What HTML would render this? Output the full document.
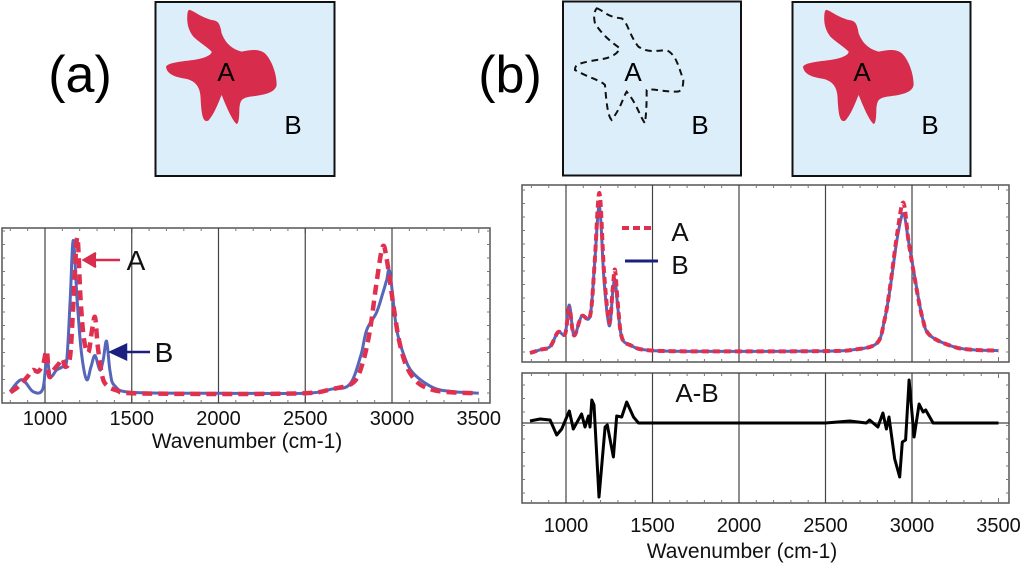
<!DOCTYPE html>
<html><head><meta charset="utf-8">
<style>
html,body{margin:0;padding:0;background:#fff;}
svg{display:block;font-family:"Liberation Sans",sans-serif;}
</style></head>
<body>
<svg id="fig" width="1024" height="566" viewBox="0 0 1024 566">
  <text x="80" y="92" font-size="52" text-anchor="middle">(a)</text>
  <text x="510" y="92" font-size="52" text-anchor="middle">(b)</text>

  <g>
    <rect x="155.5" y="2" width="179" height="174" fill="#ddeefb" stroke="#111" stroke-width="2"/>
    <path transform="translate(140,0) scale(0.3333)" fill="#d72c4c" d="M150,30 C165,35 180,50 215,60 C235,62 240,70 245,100 C255,125 270,145 305,155 C330,150 355,145 375,160 C395,180 410,220 410,255 C405,280 370,285 330,290 C305,295 300,300 298,330 C298,355 295,372 290,372 C275,360 255,310 245,285 C238,300 225,340 205,362 C190,368 185,350 182,300 C182,265 170,240 130,235 C100,230 80,220 78,200 C85,188 120,185 160,180 C195,175 215,165 215,155 C200,140 175,125 160,110 C145,90 140,70 142,45 C143,32 146,28 150,30 Z"/>
    <text x="226" y="81" font-size="26" text-anchor="middle">A</text>
    <text x="293" y="134" font-size="26" text-anchor="middle">B</text>
  </g>

  <g>
    <rect x="563" y="1.5" width="178" height="174" fill="#ddeefb" stroke="#111" stroke-width="2"/>
    <path transform="translate(550,0) scale(0.3333)" fill="none" stroke="#111" stroke-width="6" stroke-dasharray="20,14" d="M140,25 C160,30 165,50 215,55 C235,70 235,100 265,140 C290,155 300,155 350,150 C375,165 380,180 400,240 C400,270 390,275 380,275 C330,275 315,265 290,270 C290,300 290,330 285,370 C270,350 260,310 230,275 C220,290 215,320 185,360 C175,350 170,320 165,255 C150,240 120,235 75,210 C75,195 80,190 140,180 C180,175 200,165 210,145 C190,130 160,110 135,70 C130,50 132,35 140,25 Z"/>
    <text x="633" y="81" font-size="26" text-anchor="middle">A</text>
    <text x="700" y="134" font-size="26" text-anchor="middle">B</text>
  </g>

  <g>
    <rect x="792.5" y="2" width="178" height="174" fill="#ddeefb" stroke="#111" stroke-width="2"/>
    <path transform="translate(777,0) scale(0.3333)" fill="#d72c4c" d="M150,30 C165,35 180,50 215,60 C235,62 240,70 245,100 C255,125 270,145 305,155 C330,150 355,145 375,160 C395,180 410,220 410,255 C405,280 370,285 330,290 C305,295 300,300 298,330 C298,355 295,372 290,372 C275,360 255,310 245,285 C238,300 225,340 205,362 C190,368 185,350 182,300 C182,265 170,240 130,235 C100,230 80,220 78,200 C85,188 120,185 160,180 C195,175 215,165 215,155 C200,140 175,125 160,110 C145,90 140,70 142,45 C143,32 146,28 150,30 Z"/>
    <text x="862" y="81" font-size="26" text-anchor="middle">A</text>
    <text x="930" y="134" font-size="26" text-anchor="middle">B</text>
  </g>

  <g id="charts"></g>
</svg>
<script>
const tickValues = [1000, 1500, 2000, 2500, 3000, 3500];
const tickLabels = ["1000", "1500", "2000", "2500", "3000", "3500"];
// Panel (a) spectra: [wavenumber, intensity]
const specA_a = [[800,0.02],[850,0.06],[900,0.12],[930,0.16],[960,0.15],[990,0.2],[1010,0.28],[1025,0.12],[1050,0.16],[1080,0.2],[1100,0.23],[1120,0.18],[1145,0.25],[1165,0.6],[1186,0.99],[1205,0.6],[1225,0.35],[1250,0.27],[1270,0.4],[1288,0.49],[1305,0.3],[1330,0.12],[1360,0.06],[1420,0.03],[1500,0.015],[2000,0.01],[2500,0.015],[2650,0.04],[2775,0.08],[2830,0.2],[2873,0.41],[2910,0.7],[2946,0.93],[2970,0.85],[3006,0.58],[3040,0.35],[3085,0.18],[3150,0.08],[3236,0.035],[3350,0.02],[3500,0.015]];
const specB_a = [[798,0.025],[866,0.1],[931,0.025],[987,0.04],[1010,0.24],[1030,0.12],[1067,0.16],[1100,0.18],[1125,0.22],[1145,0.6],[1163,0.97],[1185,0.6],[1210,0.27],[1240,0.1],[1265,0.18],[1288,0.25],[1316,0.16],[1335,0.22],[1355,0.34],[1375,0.15],[1403,0.06],[1509,0.02],[2000,0.015],[2500,0.015],[2650,0.04],[2756,0.07],[2820,0.25],[2854,0.41],[2911,0.52],[2950,0.65],[2969,0.72],[2988,0.77],[3026,0.42],[3070,0.25],[3122,0.14],[3237,0.05],[3350,0.025],[3500,0.015]];
// Panel (b) spectra
const specA_b = [[792,0.0],[850,0.02],[908,0.04],[954,0.13],[995,0.12],[1019,0.28],[1046,0.11],[1090,0.23],[1139,0.23],[1165,0.55],[1193,1.0],[1220,0.5],[1250,0.19],[1270,0.4],[1283,0.52],[1300,0.3],[1322,0.1],[1370,0.05],[1503,0.015],[2000,0.01],[2500,0.012],[2659,0.02],[2796,0.06],[2840,0.2],[2873,0.41],[2915,0.75],[2950,0.94],[2980,0.7],[3017,0.46],[3060,0.22],[3104,0.11],[3237,0.04],[3350,0.02],[3500,0.015]];
const specB_b = [[792,0.0],[850,0.02],[908,0.04],[954,0.13],[995,0.12],[1019,0.3],[1046,0.11],[1090,0.23],[1139,0.23],[1165,0.55],[1193,0.92],[1220,0.45],[1250,0.17],[1270,0.38],[1283,0.46],[1300,0.28],[1322,0.1],[1370,0.05],[1503,0.015],[2000,0.01],[2500,0.012],[2659,0.02],[2796,0.06],[2840,0.2],[2873,0.4],[2915,0.72],[2950,0.87],[2980,0.7],[3017,0.47],[3060,0.22],[3104,0.11],[3237,0.04],[3350,0.02],[3500,0.015]];
const specDiff = [[792,0.02],[850,0.04],[908,0.03],[946,-0.12],[975,-0.06],[1019,0.12],[1042,-0.06],[1090,0.09],[1110,-0.04],[1130,0.07],[1139,-0.04],[1149,0.23],[1162,0.18],[1191,-0.74],[1226,-0.04],[1239,-0.02],[1274,-0.34],[1293,0.07],[1322,0.06],[1351,0.21],[1390,0.06],[1419,0],[1563,0],[2000,0],[2500,0],[2640,0.02],[2736,0],[2755,0.03],[2803,-0.04],[2832,0.1],[2852,-0.06],[2867,0.06],[2900,-0.36],[2929,-0.54],[2944,-0.19],[2963,-0.17],[2983,0.43],[3012,-0.14],[3041,0.19],[3064,0.11],[3079,0.13],[3122,0],[3237,0],[3500,0]];

const NS = "http://www.w3.org/2000/svg";
const root = document.getElementById('charts');
function mk(tag, attrs, parent){ const e=document.createElementNS(NS,tag); for(const k in attrs) e.setAttribute(k,attrs[k]); (parent||root).appendChild(e); return e; }

function axisX(x0){ return w => x0 + (w - 1000) * 0.1735; }
function axisY(base, scale){ return v => base - v * scale; }

function frame(g, l, t, r, b, xs, name){
  const f = mk('rect',{x:l,y:t,width:r-l,height:b-t,fill:'none',stroke:'#555','stroke-width':1.5},g);
  
  
  for(let w=800; w<=3500; w+=100){
    const x = xs(w); if(x<l||x>r) continue;
    const len = (w%500===0)?5:3;
    const tk1 = mk('line',{x1:x,y1:b,x2:x,y2:b-len,stroke:'#777','stroke-width':1},g);
    
    
    const tk2 = mk('line',{x1:x,y1:t,x2:x,y2:t+len,stroke:'#777','stroke-width':1},g);
    
    
  }
  for(let y=b-10; y>t; y-=13.5){
    const tk = mk('line',{x1:l,y1:y,x2:l+3,y2:y,stroke:'#777','stroke-width':1},g);
    
    
    const tk2 = mk('line',{x1:r,y1:y,x2:r-3,y2:y,stroke:'#777','stroke-width':1},g);
    
    
  }
  tickValues.slice(0,5).forEach(w=>{
    const gl = mk('line',{x1:xs(w),y1:t,x2:xs(w),y2:b,stroke:'#444','stroke-width':1.2},g);
    
    
  });
}
function smoothPath(pts){
  let d = 'M'+pts[0][0].toFixed(1)+','+pts[0][1].toFixed(1);
  for(let i=0;i<pts.length-1;i++){
    const p0=pts[Math.max(0,i-1)], p1=pts[i], p2=pts[i+1], p3=pts[Math.min(pts.length-1,i+2)];
    const k=1/6;
    const c1x=p1[0]+(p2[0]-p0[0])*k, c1y=p1[1]+(p2[1]-p0[1])*k;
    const c2x=p2[0]-(p3[0]-p1[0])*k, c2y=p2[1]-(p3[1]-p1[1])*k;
    d+=' C'+c1x.toFixed(1)+','+c1y.toFixed(1)+' '+c2x.toFixed(1)+','+c2y.toFixed(1)+' '+p2[0].toFixed(1)+','+p2[1].toFixed(1);
  }
  return d;
}
function series(g, data, xs, ys, stroke, width, dash, name, smooth){
  const pts = data.map(p=>[xs(p[0]), ys(p[1])]);
  const d = smooth ? smoothPath(pts) : pts.map((p,i)=>(i?'L':'M')+p[0].toFixed(1)+','+p[1].toFixed(1)).join(' ');
  const p = mk('path',{d:d,fill:'none',stroke:stroke,'stroke-width':width,'stroke-linejoin':'round','stroke-linecap':'butt'},g);
  if(dash) p.setAttribute('stroke-dasharray',dash);
  
  
}
function tickText(g, xs, y){
  tickValues.forEach((w,i)=>{
    const t = mk('text',{x:xs(w),y:y,'font-size':20,'text-anchor':'middle',fill:'#111'},g);
    t.textContent = tickLabels[i];
    
    
  });
}
function txt(g, x, y, s, size, name){
  const t = mk('text',{x:x,y:y,'font-size':size,'text-anchor':'middle',fill:'#111'},g);
  t.textContent = s;
  
  
}

// Panel (a)
const ga = mk('g',{});


const xa = axisX(45), ya = axisY(395.6, 160);
frame(ga, 2, 228, 490, 403, xa, 'plot-frame-a');
series(ga, specB_a, xa, ya, '#5566bb', 3, null, 'series-b', true);
series(ga, specA_a, xa, ya, '#e0304f', 4.5, '10,6', 'series-a', true);
tickText(ga, xa, 425);
txt(ga, 247, 448, 'Wavenumber (cm-1)', 21, 'x-axis-title');
const arA = mk('path',{d:'M120,260 L88,260 M96,253 L84,260 L96,267',stroke:'#d72c4c','stroke-width':2.5,fill:'#d72c4c'},ga);


txt(ga, 136, 270, 'A', 28, 'annotation-a');
const arB = mk('path',{d:'M150,352 L118,352 M126,345 L111,352 L126,359 Z',stroke:'#1a1f80','stroke-width':2.5,fill:'#1a1f80'},ga);


txt(ga, 164, 362, 'B', 28, 'annotation-b');

// Panel (b)
const gb = mk('g',{});


const xb = w => 566 + (w - 1000) * 0.173;
const yb = axisY(353, 160);
frame(gb, 522, 185, 1009, 362, xb, 'plot-frame-b-top');
series(gb, specB_b, xb, yb, '#5566bb', 3, null, 'series-b', true);
series(gb, specA_b, xb, yb, '#e0304f', 4, '7,4', 'series-a', true);
const la = mk('line',{x1:622,y1:228,x2:655,y2:228,stroke:'#e0304f','stroke-width':4,'stroke-dasharray':'7,4'},gb);


txt(gb, 680, 241, 'A', 26, 'legend-label-a');
const lb = mk('line',{x1:625,y1:261,x2:658,y2:261,stroke:'#1a1f80','stroke-width':3},gb);


txt(gb, 680, 274, 'B', 26, 'legend-label-b');

const yd = axisY(423, 100);
frame(gb, 522, 373, 1009, 503, xb, 'plot-frame-b-diff');
const zl = mk('line',{x1:522,y1:423,x2:1009,y2:423,stroke:'#444','stroke-width':1.2},gb);


series(gb, specDiff, xb, yd, '#000', 3, null, 'series-diff', false);
txt(gb, 697, 402, 'A-B', 26, 'diff-label');
tickText(gb, xb, 532);
txt(gb, 742, 558, 'Wavenumber (cm-1)', 21, 'x-axis-title');
</script>
</body></html>
